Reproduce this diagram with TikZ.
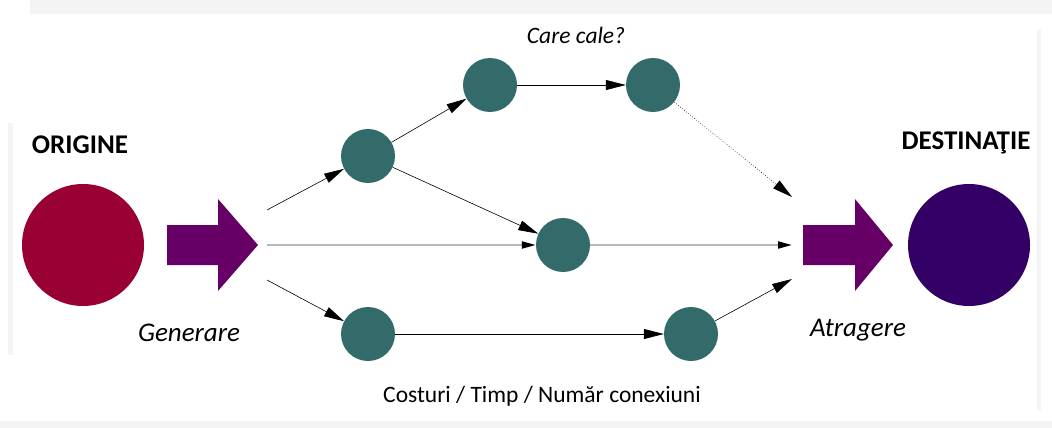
\documentclass[tikz,border=0pt]{standalone}
\usepackage{fontspec}
\setmainfont{Carlito}
\usetikzlibrary{arrows.meta}
\definecolor{origc}{HTML}{990033}
\definecolor{destc}{HTML}{330066}
\definecolor{arrc}{HTML}{660066}
\definecolor{netc}{HTML}{336B6B}
\definecolor{bandc}{HTML}{F4F4F4}
\tikzset{
  netnode/.style={circle, fill=netc, minimum size=54pt, inner sep=0pt},
  bignode/.style={circle, minimum size=122pt, inner sep=0pt},
  edge/.style={line width=0.6pt, -{Triangle[length=20pt,width=10pt]}},
  midedge/.style={line width=2pt, draw=black!28, -{Triangle[length=14pt,width=7pt,color=black]}},
  titletext/.style={font=\bfseries\fontsize{27}{32}\selectfont},
  ittext/.style={font=\itshape\fontsize{27}{32}\selectfont},
  plaintext/.style={font=\fontsize{23.5}{28}\selectfont},
  careText/.style={font=\itshape\fontsize{23.5}{28}\selectfont},
  bigarrow/.style={fill=arrc}
}
\begin{document}
\begin{tikzpicture}[x=1pt,y=-1pt]
\useasboundingbox (0,0) rectangle (1052,428);
\fill[white] (0,0) rectangle (1052,428);
% faint background bands
\fill[bandc] (30,0) rectangle (1052,14);
\fill[bandc] (0,421) rectangle (1052,428);
\fill[bandc] (8,123) rectangle (13,355);
\fill[bandc] (1037,30) rectangle (1041,410);

% big circles
\node[bignode, fill=origc] (orig) at (83,245) {};
\node[bignode, fill=destc] (dest) at (969,245) {};
\node[titletext] (origlbl) at (80,145) {ORIGINE};
\node[titletext] (destlbl) at (966,143) {DESTINAŢIE};

% block arrows
\fill[bigarrow] (167,225) -- (218,225) -- (218,199) -- (258,245) -- (218,291) -- (218,265) -- (167,265) -- cycle;
\fill[bigarrow] (803,225) -- (855,225) -- (855,199) -- (893,245) -- (855,291) -- (855,265) -- (803,265) -- cycle;

\node[ittext] (gen) at (189,333) {Generare};
\node[ittext] (atr) at (858,330) {Atragere};

% network nodes
\node[netnode] (A) at (368,156) {};
\node[netnode] (B) at (490,85) {};
\node[netnode] (C) at (653,85) {};
\node[netnode] (D) at (563,245) {};
\node[netnode] (E) at (368,334) {};
\node[netnode] (F) at (691,334) {};

% fan points
\coordinate (s1) at (267,210);
\coordinate (s2) at (267,245);
\coordinate (s3) at (267,280);
\coordinate (t1) at (792,197);
\coordinate (t2) at (792,245);
\coordinate (t3) at (792,279);

% edges
\draw[edge] (s1) -- (A);
\draw[edge] (A) -- (B);
\draw[edge] (B) -- (C);
\draw[edge, dotted] (C) -- (t1);
\draw[edge] (A) -- (D);
\draw[midedge] (s2) -- (D);
\draw[midedge] (D) -- (t2);
\draw[edge] (s3) -- (E);
\draw[edge] (E) -- (F);
\draw[edge] (F) -- (t3);

\node[careText] (care) at (576,35) {Care cale?};
\node[plaintext] (cost) at (542,396) {Costuri / Timp / Număr conexiuni};
\end{tikzpicture}
\end{document}
